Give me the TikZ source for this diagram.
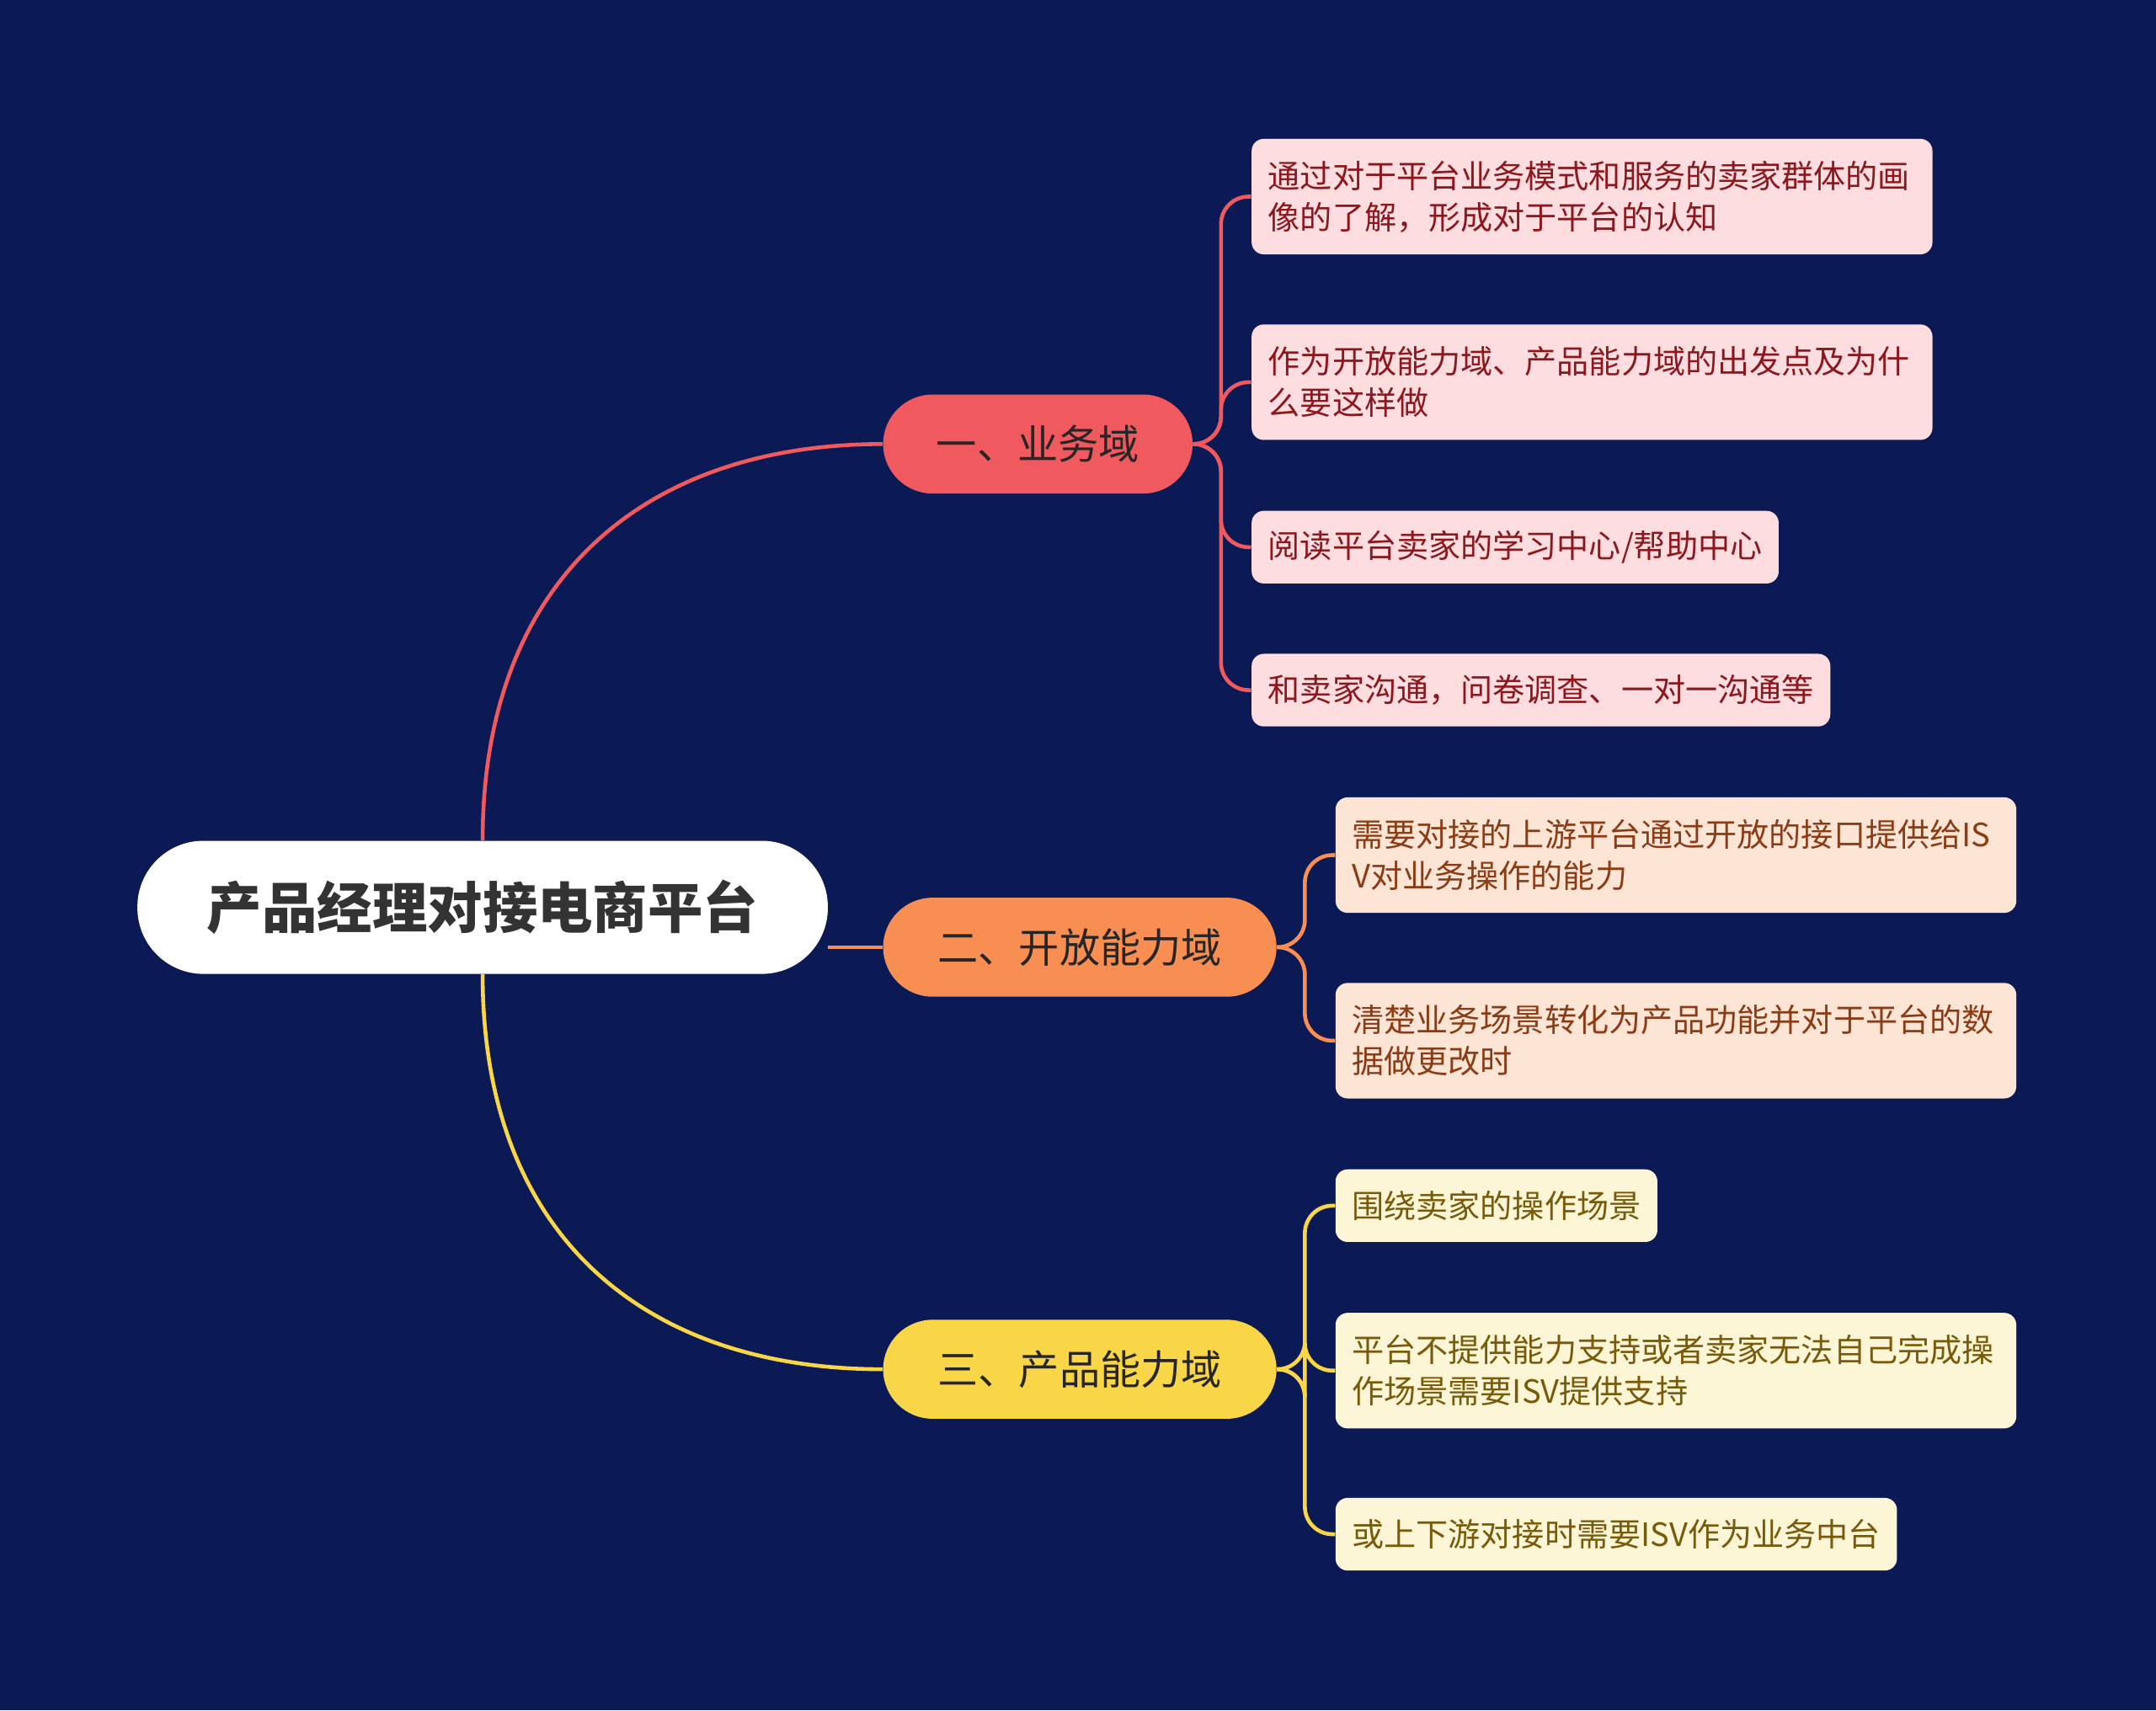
\documentclass[tikz,border=0pt]{standalone}
\usepackage{fontspec}
\setmainfont{Noto Sans CJK SC}
\usetikzlibrary{positioning}
\definecolor{bgnavy}{RGB}{11,26,84}
\definecolor{redmain}{RGB}{240,90,94}
\definecolor{orangemain}{RGB}{249,142,82}
\definecolor{yellowmain}{RGB}{249,214,72}
\definecolor{redleaf}{RGB}{253,221,224}
\definecolor{orangeleaf}{RGB}{253,229,214}
\definecolor{yellowleaf}{RGB}{253,246,214}
\definecolor{redtext}{RGB}{140,24,30}
\definecolor{orangetext}{RGB}{140,60,20}
\definecolor{yellowtext}{RGB}{120,90,10}
\tikzset{
  rootbox/.style={fill=white, rounded corners=1.2cm, minimum width=12.55cm, minimum height=2.42cm,
    font=\fontsize{28.5}{34}\selectfont\bfseries, text=black!80},
  branchbox/.style={rounded corners=0.9cm, minimum height=1.8cm, inner xsep=0.9cm,
    font=\fontsize{21}{25}\selectfont, text=black!85, anchor=west},
  leafbox/.style={rounded corners=0.22cm, inner xsep=0.3cm, anchor=west, align=left,
    font=\fontsize{16.6}{21.3}\selectfont},
  twoline/.style={leafbox, text width=11.775cm, minimum height=2.1cm},
  oneline/.style={leafbox, minimum height=1.32cm},
  link/.style={line width=2pt},
}
\begin{document}
\begin{tikzpicture}[x=0.025cm,y=-0.025cm]
\fill[bgnavy] (0,0) rectangle (1568,1244);
\useasboundingbox (0,0) rectangle (1568,1244);
%% root and branches
\node[rootbox] (root) at (351,660) {产品经理对接电商平台};
\node[branchbox, fill=redmain, minimum width=5.625cm] (biz) at (642,323) {一、业务域};
\node[branchbox, fill=orangemain, minimum width=7.15cm] (open) at (642,689) {二、开放能力域};
\node[branchbox, fill=yellowmain, minimum width=7.15cm] (prod) at (642,996) {三、产品能力域};
%% leaves
\node[twoline, fill=redleaf, text=redtext] (b1) at (910,143) {通过对于平台业务模式和服务的卖家群体的画\\像的了解，形成对于平台的认知};
\node[twoline, fill=redleaf, text=redtext] (b2) at (910,278) {作为开放能力域、产品能力域的出发点及为什\\么要这样做};
\node[oneline, fill=redleaf, text=redtext] (b3) at (910,398) {阅读平台卖家的学习中心/帮助中心};
\node[oneline, fill=redleaf, text=redtext] (b4) at (910,502) {和卖家沟通，问卷调查、一对一沟通等};
\node[twoline, fill=orangeleaf, text=orangetext] (o1) at (971,622) {需要对接的上游平台通过开放的接口提供给IS\\V对业务操作的能力};
\node[twoline, fill=orangeleaf, text=orangetext] (o2) at (971,757) {清楚业务场景转化为产品功能并对于平台的数\\据做更改时};
\node[oneline, fill=yellowleaf, text=yellowtext] (p1) at (971,877) {围绕卖家的操作场景};
\node[twoline, fill=yellowleaf, text=yellowtext] (p2) at (971,997) {平台不提供能力支持或者卖家无法自己完成操\\作场景需要ISV提供支持};
\node[oneline, fill=yellowleaf, text=yellowtext] (p3) at (971,1116) {或上下游对接时需要ISV作为业务中台};
%% root links
\draw[link, redmain] (root.north) .. controls (351,420) and (470,323) .. (biz.west);
\draw[link, orangemain] (root.east |- open.west) -- (open.west);
\draw[link, yellowmain] (root.south) .. controls (351,900) and (470,996) .. (prod.west);
%% brackets
\foreach \leaf in {b1,b2,b3,b4}
  \draw[link, redmain, rounded corners=0.5cm] (biz.east) -- (888,323) |- (\leaf.west);
\foreach \leaf in {o1,o2}
  \draw[link, orangemain, rounded corners=0.5cm] (open.east) -- (949,689) |- (\leaf.west);
\foreach \leaf in {p1,p2,p3}
  \draw[link, yellowmain, rounded corners=0.5cm] (prod.east) -- (949,996) |- (\leaf.west);
\end{tikzpicture}
\end{document}
